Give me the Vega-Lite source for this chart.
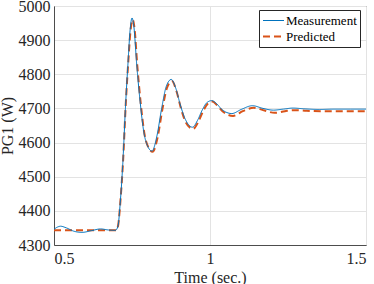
{
  "$schema": "https://vega.github.io/schema/vega-lite/v6.json",
  "autosize": "none",
  "width": 312,
  "height": 239,
  "padding": {"left": 54, "top": 6, "right": 8, "bottom": 39},
  "background": "white",
  "config": {
    "font": "Liberation Serif",
    "view": {"stroke": "#4d4d4d", "strokeWidth": 1},
    "axis": {
      "labelFont": "Liberation Serif",
      "titleFont": "Liberation Serif",
      "labelFontSize": 16,
      "titleFontSize": 16,
      "titleFontWeight": "normal",
      "labelColor": "#262626",
      "titleColor": "#262626",
      "domainColor": "#4d4d4d",
      "gridColor": "#e3e3e3",
      "gridWidth": 1,
      "ticks": false
    },
    "legend": {
      "labelFont": "Liberation Serif",
      "labelFontSize": 13,
      "labelColor": "#000000"
    }
  },
  "datasets": {
    "pts": [
      {"t": 0.50, "P": 4343, "series": "Predicted"},
      {"t": 0.60, "P": 4343, "series": "Predicted"},
      {"t": 0.70, "P": 4343, "series": "Predicted"},
      {"t": 0.706, "P": 4360, "series": "Predicted"},
      {"t": 0.713, "P": 4430, "series": "Predicted"},
      {"t": 0.721, "P": 4540, "series": "Predicted"},
      {"t": 0.731, "P": 4730, "series": "Predicted"},
      {"t": 0.738, "P": 4835, "series": "Predicted"},
      {"t": 0.745, "P": 4925, "series": "Predicted"},
      {"t": 0.752, "P": 4960, "series": "Predicted"},
      {"t": 0.758, "P": 4935, "series": "Predicted"},
      {"t": 0.767, "P": 4825, "series": "Predicted"},
      {"t": 0.778, "P": 4715, "series": "Predicted"},
      {"t": 0.790, "P": 4625, "series": "Predicted"},
      {"t": 0.802, "P": 4587, "series": "Predicted"},
      {"t": 0.816, "P": 4573, "series": "Predicted"},
      {"t": 0.832, "P": 4615, "series": "Predicted"},
      {"t": 0.847, "P": 4695, "series": "Predicted"},
      {"t": 0.862, "P": 4760, "series": "Predicted"},
      {"t": 0.878, "P": 4780, "series": "Predicted"},
      {"t": 0.892, "P": 4752, "series": "Predicted"},
      {"t": 0.907, "P": 4700, "series": "Predicted"},
      {"t": 0.922, "P": 4660, "series": "Predicted"},
      {"t": 0.946, "P": 4640, "series": "Predicted"},
      {"t": 0.962, "P": 4660, "series": "Predicted"},
      {"t": 0.977, "P": 4690, "series": "Predicted"},
      {"t": 0.992, "P": 4713, "series": "Predicted"},
      {"t": 1.008, "P": 4720, "series": "Predicted"},
      {"t": 1.022, "P": 4710, "series": "Predicted"},
      {"t": 1.040, "P": 4692, "series": "Predicted"},
      {"t": 1.074, "P": 4678, "series": "Predicted"},
      {"t": 1.105, "P": 4692, "series": "Predicted"},
      {"t": 1.140, "P": 4702, "series": "Predicted"},
      {"t": 1.175, "P": 4694, "series": "Predicted"},
      {"t": 1.207, "P": 4687, "series": "Predicted"},
      {"t": 1.240, "P": 4692, "series": "Predicted"},
      {"t": 1.270, "P": 4695, "series": "Predicted"},
      {"t": 1.310, "P": 4693, "series": "Predicted"},
      {"t": 1.360, "P": 4692, "series": "Predicted"},
      {"t": 1.420, "P": 4692, "series": "Predicted"},
      {"t": 1.500, "P": 4692, "series": "Predicted"},
      {"t": 0.500, "P": 4346, "series": "Measurement"},
      {"t": 0.510, "P": 4352, "series": "Measurement"},
      {"t": 0.521, "P": 4355, "series": "Measurement"},
      {"t": 0.540, "P": 4350, "series": "Measurement"},
      {"t": 0.565, "P": 4340, "series": "Measurement"},
      {"t": 0.590, "P": 4337, "series": "Measurement"},
      {"t": 0.620, "P": 4342, "series": "Measurement"},
      {"t": 0.649, "P": 4347, "series": "Measurement"},
      {"t": 0.675, "P": 4344, "series": "Measurement"},
      {"t": 0.697, "P": 4343, "series": "Measurement"},
      {"t": 0.705, "P": 4355, "series": "Measurement"},
      {"t": 0.712, "P": 4420, "series": "Measurement"},
      {"t": 0.720, "P": 4530, "series": "Measurement"},
      {"t": 0.730, "P": 4720, "series": "Measurement"},
      {"t": 0.737, "P": 4830, "series": "Measurement"},
      {"t": 0.744, "P": 4930, "series": "Measurement"},
      {"t": 0.750, "P": 4965, "series": "Measurement"},
      {"t": 0.756, "P": 4940, "series": "Measurement"},
      {"t": 0.765, "P": 4830, "series": "Measurement"},
      {"t": 0.776, "P": 4720, "series": "Measurement"},
      {"t": 0.788, "P": 4630, "series": "Measurement"},
      {"t": 0.800, "P": 4590, "series": "Measurement"},
      {"t": 0.814, "P": 4575, "series": "Measurement"},
      {"t": 0.830, "P": 4620, "series": "Measurement"},
      {"t": 0.845, "P": 4700, "series": "Measurement"},
      {"t": 0.860, "P": 4765, "series": "Measurement"},
      {"t": 0.876, "P": 4785, "series": "Measurement"},
      {"t": 0.890, "P": 4760, "series": "Measurement"},
      {"t": 0.905, "P": 4710, "series": "Measurement"},
      {"t": 0.920, "P": 4670, "series": "Measurement"},
      {"t": 0.944, "P": 4645, "series": "Measurement"},
      {"t": 0.960, "P": 4665, "series": "Measurement"},
      {"t": 0.975, "P": 4695, "series": "Measurement"},
      {"t": 0.990, "P": 4717, "series": "Measurement"},
      {"t": 1.006, "P": 4723, "series": "Measurement"},
      {"t": 1.020, "P": 4715, "series": "Measurement"},
      {"t": 1.038, "P": 4697, "series": "Measurement"},
      {"t": 1.070, "P": 4685, "series": "Measurement"},
      {"t": 1.100, "P": 4697, "series": "Measurement"},
      {"t": 1.136, "P": 4708, "series": "Measurement"},
      {"t": 1.170, "P": 4700, "series": "Measurement"},
      {"t": 1.203, "P": 4695, "series": "Measurement"},
      {"t": 1.235, "P": 4698, "series": "Measurement"},
      {"t": 1.266, "P": 4701, "series": "Measurement"},
      {"t": 1.300, "P": 4699, "series": "Measurement"},
      {"t": 1.350, "P": 4697, "series": "Measurement"},
      {"t": 1.400, "P": 4698, "series": "Measurement"},
      {"t": 1.450, "P": 4698, "series": "Measurement"},
      {"t": 1.500, "P": 4698, "series": "Measurement"}
    ]
  },
  "data": {"name": "pts"},
  "encoding": {
    "x": {
      "field": "t", "type": "quantitative",
      "scale": {"domain": [0.5, 1.5], "nice": false},
      "axis": {"values": [0.5, 1, 1.5], "labelExpr": "datum.value", "title": "Time (sec.)", "labelFont": "Liberation Serif", "labelFontSize": 16, "labelPadding": 5, "titlePadding": 3}
    },
    "y": {
      "field": "P", "type": "quantitative",
      "scale": {"domain": [4300, 5000], "nice": false, "zero": false},
      "axis": {"values": [4300, 4400, 4500, 4600, 4700, 4800, 4900, 5000], "format": "d", "labelFont": "Liberation Serif", "labelFontSize": 16, "title": "PG1 (W)", "labelPadding": 4, "titlePadding": 3}
    },
    "color": {
      "field": "series", "type": "nominal",
      "scale": {"domain": ["Measurement", "Predicted"], "range": ["#0072BD", "#D95319"]},
      "legend": {"title": null, "orient": "none", "legendX": 205, "legendY": 4, "symbolType": "M-1,0H2", "symbolSize": 196, "fillColor": "white", "strokeColor": "#262626", "padding": 3, "rowPadding": 0.5, "labelOffset": 8}
    },
    "strokeDash": {
      "field": "series", "type": "nominal",
      "scale": {"domain": ["Measurement", "Predicted"], "range": [[1, 0], [7, 4]]},
      "legend": {"title": null, "orient": "none", "legendX": 205, "legendY": 4, "symbolType": "M-1,0H2", "symbolSize": 196, "fillColor": "white", "strokeColor": "#262626", "padding": 3, "rowPadding": 0.5, "labelOffset": 8}
    },
    "strokeWidth": {
      "field": "series", "type": "nominal",
      "scale": {"domain": ["Measurement", "Predicted"], "range": [1, 2]},
      "legend": {"title": null, "orient": "none", "legendX": 205, "legendY": 4, "symbolType": "M-1,0H2", "symbolSize": 196, "fillColor": "white", "strokeColor": "#262626", "padding": 3, "rowPadding": 0.5, "labelOffset": 8}
    }
  },
  "layer": [
    {"transform": [{"filter": "datum.series === 'Predicted'"}], "mark": {"type": "line", "interpolate": "monotone"}},
    {"transform": [{"filter": "datum.series === 'Measurement'"}], "mark": {"type": "line", "interpolate": "monotone"}}
  ]
}
